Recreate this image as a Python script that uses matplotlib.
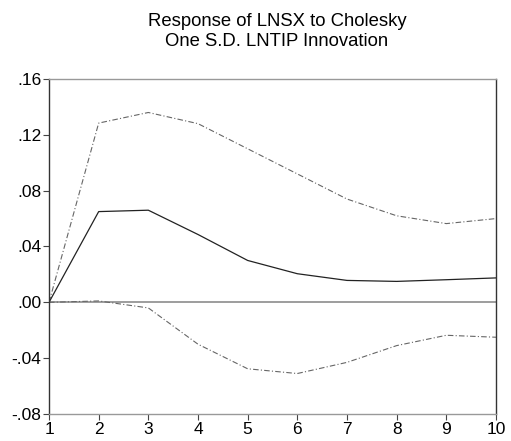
import numpy as np
import matplotlib.pyplot as plt

plt.rcParams['font.family'] = ['Liberation Sans', 'DejaVu Sans']

# impulse response of LNSX to a one S.D. LNTIP shock, with +/- 2 S.E. bands
periods = [1, 2, 3, 4, 5, 6, 7, 8, 9, 10]
response = [0.0, 0.065, 0.066, 0.0486, 0.030, 0.0205, 0.0157, 0.015, 0.0162, 0.0175]
upper = [0.0, 0.1284, 0.136, 0.128, 0.110, 0.092, 0.074, 0.062, 0.0564, 0.060]
lower = [0.0, 0.001, -0.004, -0.030, -0.0476, -0.051, -0.043, -0.031, -0.0236, -0.025]
yticks = [-0.08, -0.04, 0.0, 0.04, 0.08, 0.12, 0.16]
ylabels = ['-.08', '-.04', '.00', '.04', '.08', '.12', '.16']

fig = plt.figure(figsize=(5.11, 4.41), dpi=100)
ax = fig.add_axes([0.0959, 0.0612, 0.8747, 0.7597])

ax.axhline(0, color='#8c8c8c', lw=1.2, zorder=1)
ax.plot(periods, upper, color='#666666', lw=0.8, dashes=[5, 2, 1, 2])
ax.plot(periods, lower, color='#666666', lw=0.8, dashes=[5, 2, 1, 2])
ax.plot(periods, response, color='#222222', lw=0.9)

ax.set_xlim(1, 10)
ax.set_ylim(-0.08, 0.16)
ax.set_xticks(periods)
ax.set_yticks(yticks)
ax.set_yticklabels(ylabels)
ax.tick_params(direction='out', length=4, width=0.8, color='#444444',
               labelsize=12.5, pad=1.5)

ax.spines['left'].set_color('#333333')
ax.spines['right'].set_color('#333333')
ax.spines['top'].set_color('#999999')
ax.spines['bottom'].set_color('#999999')
for s in ax.spines.values():
    s.set_linewidth(1.0)

ax.set_title('Response of LNSX to Cholesky\nOne S.D. LNTIP Innovation',
             fontsize=13.3, pad=24, linespacing=1.2, x=0.51)

fig.savefig('out.png', dpi=100)
